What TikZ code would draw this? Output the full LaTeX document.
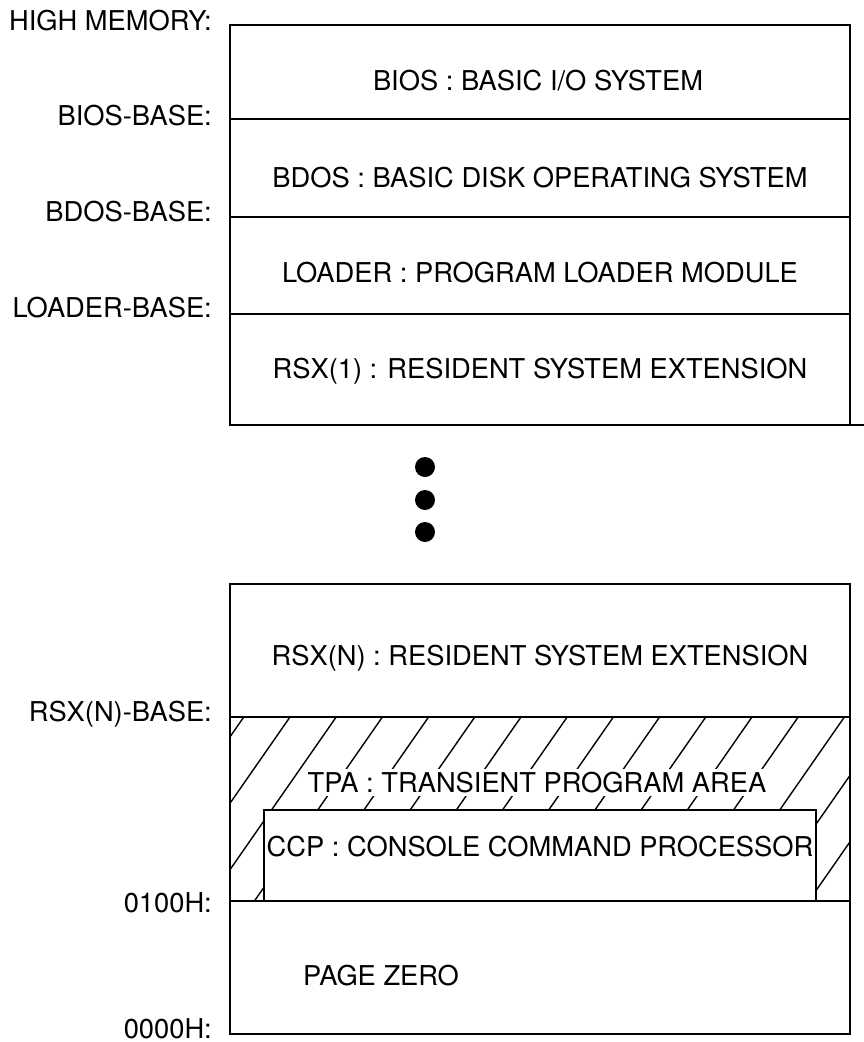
\documentclass[tikz,border=0pt]{standalone}
\usepackage{fontspec}
\setmainfont{TeX Gyre Heros}
\begin{document}
\begin{tikzpicture}[x=1pt,y=-1pt,
  frame/.style={line width=1.9pt, line cap=rect},
  lbl/.style={anchor=base east, font=\fontsize{27.3}{31}\selectfont, inner sep=0pt},
  txt/.style={anchor=base, font=\fontsize{27.3}{31}\selectfont, inner sep=0pt},
  hatchline/.style={line width=1.4pt},
  dotmark/.style={circle, fill=black, minimum size=20pt, inner sep=0pt}]
\useasboundingbox (0,0) rectangle (863,1042);

% ---- upper stack ----
\draw[frame] (230,25) rectangle (850,425);
\draw[frame] (230,425) -- (863,425);
\draw[frame] (230,119) -- (850,119);
\draw[frame] (230,217) -- (850,217);
\draw[frame] (230,314) -- (850,314);

\node[lbl] (lhigh)   at (212,30)  {HIGH MEMORY:};
\node[lbl] (lbios)   at (212,125) {BIOS-BASE:};
\node[lbl] (lbdos)   at (212,221) {BDOS-BASE:};
\node[lbl] (lloader) at (212,317) {LOADER-BASE:};

\node[txt] (tbios)   at (538,90)  {BIOS : BASIC I/O SYSTEM};
\node[txt] (tbdos)   at (540,187) {BDOS : BASIC DISK OPERATING SYSTEM};
\node[txt] (tloader) at (540,282) {LOADER : PROGRAM LOADER MODULE};
\node[txt] (trsx1)   at (540,378) {RSX(1) : RESIDENT SYSTEM EXTENSION};

% ---- dots ----
\node[dotmark] (d1) at (425,467) {};
\node[dotmark] (d2) at (425,500) {};
\node[dotmark] (d3) at (425,532) {};

% ---- lower stack ----
\begin{scope}
  \clip (230,717) rectangle (850,901);
  \foreach \k in {-4,...,16} {
    \draw[hatchline] ({290+46.2*\k},717) -- ({290+46.2*\k-128},901);
  }
\end{scope}
\fill[white] (264,810) rectangle (816,901);

\draw[frame] (230,584) rectangle (850,1034);
\draw[frame] (230,717) -- (850,717);
\draw[frame] (230,901) -- (850,901);
\draw[frame] (264,901) -- (264,810) -- (816,810) -- (816,901);

\node[lbl] (lrsxn)  at (212,721)  {RSX(N)-BASE:};
\node[lbl] (l0100)  at (212,912)  {0100H:};
\node[lbl] (l0000)  at (212,1038) {0000H:};

\node[txt] (trsxn) at (540,665) {RSX(N) : RESIDENT SYSTEM EXTENSION};
\node[txt, fill=white, inner sep=3pt] (ttpa) at (537,792) {TPA : TRANSIENT PROGRAM AREA};
\node[txt] (tccp) at (540,856) {CCP : CONSOLE COMMAND PROCESSOR};
\node[txt, anchor=base west] (tzero) at (303,985) {PAGE ZERO};
\end{tikzpicture}
\end{document}
